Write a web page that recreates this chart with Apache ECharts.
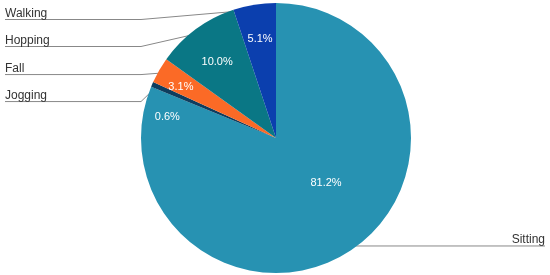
<!DOCTYPE html>
<html>
<head>
<meta charset="utf-8">
<script src="https://cdn.jsdelivr.net/npm/echarts@6/dist/echarts.min.js"></script>
<style>
  html, body { margin: 0; padding: 0; background: #fff; }
  #main { width: 550px; height: 275px; }
</style>
</head>
<body>
<div id="main"></div>
<script>
// clockwise from 12 o'clock
const categories = ['Sitting', 'Jogging', 'Fall', 'Hopping', 'Walking']
const values = [81.2, 0.6, 3.1, 10.0, 5.1]
const colors = ['#2792b2', '#0e3d5e', '#fb6a26', '#0a7785', '#0b3fae']

// where the percent labels sit: share of the radius, and turn (deg, clockwise) from the slice middle
const labelRadius = [0.5, 0.82, 0.8, 0.71, 0.74]
const labelTurn = [-14, -12.5, -1.8, -1.5, 0]

const cx = 276
const cy = 138
const R = 135
const viewTop = 6

const chart = echarts.init(document.getElementById('main'))

const pieData = categories.map((name, i) => ({
  name: name,
  value: values[i],
  itemStyle: { color: colors[i] }
}))

chart.setOption({
  animation: false,
  series: [
    {
      type: 'pie',
      center: [cx, cy],
      radius: R,
      startAngle: 90,
      clockwise: true,
      silent: true,
      avoidLabelOverlap: false,
      minShowLabelAngle: 0,
      itemStyle: { borderWidth: 0 },
      label: {
        position: 'inside',
        color: '#fff',
        fontFamily: 'Arial, Liberation Sans, sans-serif',
        fontSize: 11,
        overflow: 'none',
        formatter: p => p.value.toFixed(1) + '%'
      },
      labelLine: { show: false },
      labelLayout: function (params) {
        const rect = params.labelRect
        const lx = rect.x + rect.width / 2
        const ly = rect.y + rect.height / 2
        const mid = Math.atan2(lx - cx, cy - ly)
        const a = mid + labelTurn[params.dataIndex] * Math.PI / 180
        const r = labelRadius[params.dataIndex] * R
        return { x: cx + r * Math.sin(a), y: cy - r * Math.cos(a), align: 'center', verticalAlign: 'middle' }
      },
      data: pieData
    },
    {
      type: 'pie',
      top: viewTop,
      bottom: 0,
      center: [cx, cy - viewTop],
      radius: R - 5,
      startAngle: 90,
      clockwise: true,
      silent: true,
      itemStyle: { color: 'rgba(0,0,0,0)' },
      label: {
        position: 'outer',
        alignTo: 'edge',
        edgeDistance: 5,
        color: '#333',
        fontFamily: 'Arial, Liberation Sans, sans-serif',
        fontSize: 12,
        lineHeight: 12.5,
        formatter: p => p.name + '\n '
      },
      labelLine: {
        show: true,
        length: 0,
        length2: 70,
        lineStyle: { color: '#888', width: 1 }
      },
      labelLayout: function (params) {
        const isLeft = params.labelRect.x < chart.getWidth() / 2
        const points = params.labelLinePoints
        points[2][0] = isLeft ? params.labelRect.x : params.labelRect.x + params.labelRect.width
        points[1][0] = isLeft ? Math.min(points[0][0], cx - R) : Math.max(points[0][0], points[1][0])
        return { labelLinePoints: points }
      },
      data: pieData.map(d => ({ name: d.name, value: d.value }))
    }
  ]
})
</script>
</body>
</html>
